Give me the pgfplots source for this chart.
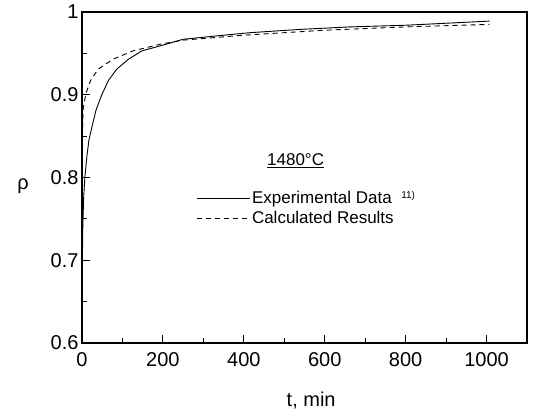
\documentclass[border=0pt]{standalone}
\usepackage{pgfplots}
\pgfplotsset{compat=1.18}
\usepackage{fontspec}
\setmainfont{Liberation Sans}
\begin{document}
\begin{tikzpicture}
\begin{axis}[name=ax, scale only axis, width=445pt, height=331pt,
  xmin=0, xmax=1100, ymin=0.6, ymax=1,
  xtick={0,200,400,600,800,1000}, minor xtick={100,300,500,700,900},
  ytick={0.6,0.7,0.8,0.9,1}, minor ytick={0.65,0.75,0.85,0.95},
  yticklabels={0.6,0.7,0.8,0.9,1},
  xtick pos=bottom, ytick pos=left, tick align=inside,
  major tick length=8pt, minor tick length=5pt,
  axis line style={line width=1.6pt},
  every tick/.style={black, line width=1pt},
  /pgf/number format/assume math mode=true,
  /pgf/number format/1000 sep={},
  ticklabel style={font=\fontsize{20}{20}\selectfont},
  xticklabel style={yshift=-6pt},
  every axis x label/.style={at={(rel axis cs:0.515,0)}, anchor=center, yshift=-58pt},
  every axis y label/.style={at={(rel axis cs:0,0.475)}, anchor=center, xshift=-59pt},
  label style={font=\fontsize{20}{20}\selectfont},
  xlabel={t, min}, ylabel={ρ},
  legend style={draw=none, fill=none, at={(rel axis cs:0.256,0.465)}, anchor=north west,
    font=\fontsize{17}{17}\selectfont, inner sep=0pt, row sep=2pt,
    nodes={inner sep=2pt}},
  legend cell align=left,
  legend image code/.code={\draw[#1] (0pt,0pt) -- (53pt,0pt);},
]
\addplot[black, line width=0.9pt] coordinates {
(0,0.655) (1,0.70) (2,0.74) (4,0.775) (7,0.80) (12,0.825) (17,0.845) (25,0.862)
(35,0.882) (49,0.90) (65,0.917) (86,0.931) (115,0.943) (148,0.953) (200,0.960)
(250,0.967) (330,0.971) (415,0.975) (540,0.979) (662,0.982) (800,0.984) (1007,0.989)};
\addlegendentry{Experimental Data\ \ \raisebox{0.6ex}{\fontsize{10}{10}\selectfont 11)}}
\addplot[black, line width=0.9pt, dash pattern=on 5pt off 4pt] coordinates {
(0,0.74) (0.5,0.80) (1,0.847) (3,0.884) (10,0.902) (21,0.917) (40,0.931) (77,0.943)
(126,0.953) (193,0.961) (250,0.966) (400,0.972) (600,0.978) (800,0.982) (1007,0.985)};
\addlegendentry{Calculated Results}
\node[font=\fontsize{17}{17}\selectfont, anchor=center] at (rel axis cs:0.48,0.55) {\underline{1480°C}};
\end{axis}
\path[use as bounding box] (ax.south west) ++(-82pt,-73pt) rectangle ++(536pt,416pt);
\end{tikzpicture}
\end{document}
